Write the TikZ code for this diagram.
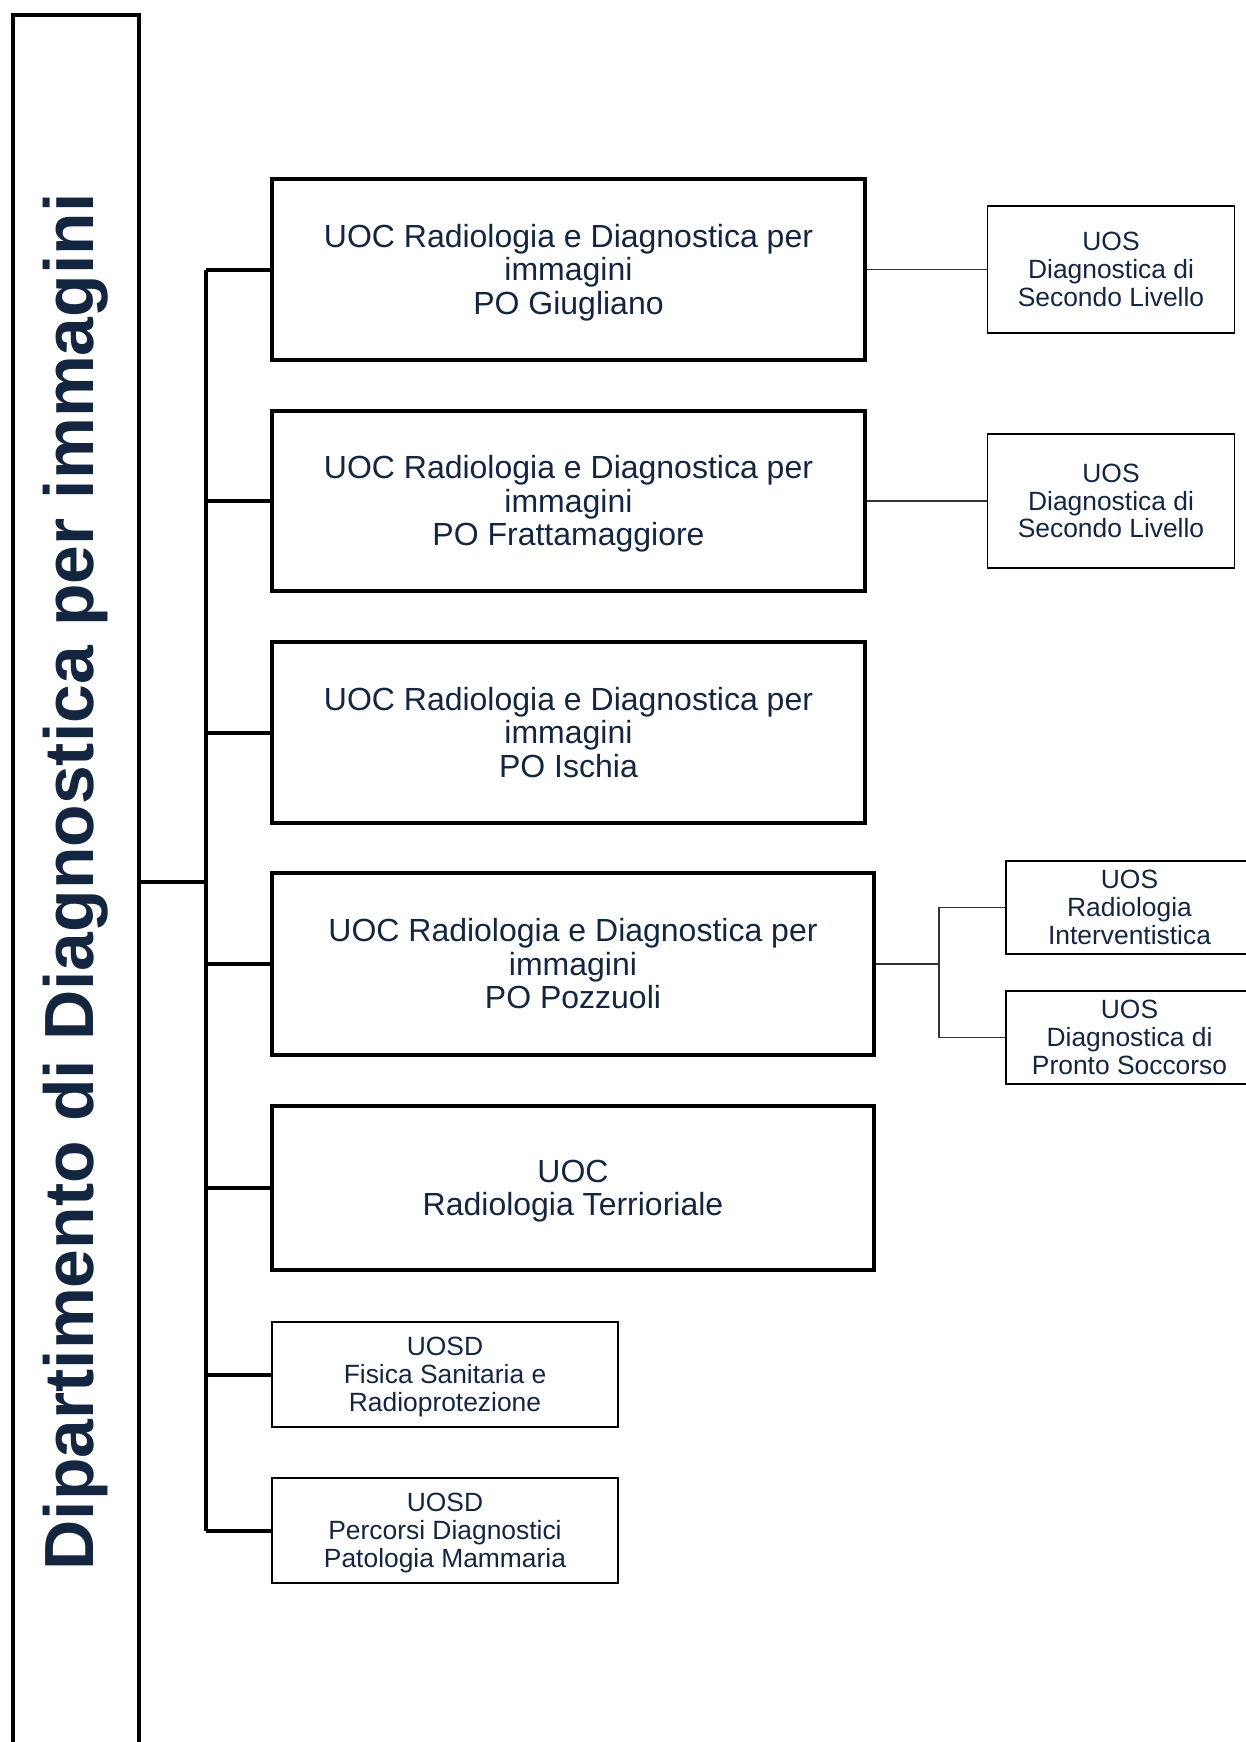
\documentclass[tikz,border=0pt]{standalone}
\usepackage{fontspec}
\setmainfont{Liberation Sans}
\definecolor{navy}{HTML}{14263F}
\definecolor{conngray}{HTML}{333333}
\newcommand{\bigstrut}{\rule{0pt}{29pt}}
\newcommand{\smallstrut}{\rule{0pt}{24pt}}
\begin{document}
\begin{tikzpicture}[x=1pt,y=-1pt,
  deptbox/.style={draw=black, line width=4pt, minimum height=126.5pt, minimum width=1734pt, inner sep=0pt, text=navy, font=\fontsize{69.6}{72}\selectfont\bfseries, rotate=90},
  bigbox/.style={draw=black, line width=4pt, minimum width=593pt, align=center, inner sep=0pt, text=navy, font=\fontsize{32}{33.5}\selectfont},
  uosdbox/.style={draw=black, line width=2pt, minimum width=346pt, minimum height=105pt, align=center, inner sep=0pt, text=navy, font=\fontsize{26.4}{27.8}\selectfont},
  uosbox/.style={draw=black, line width=1.3pt, minimum width=247pt, align=center, inner sep=0pt, text=navy, font=\fontsize{26.4}{27.8}\selectfont},
  thickline/.style={line width=4pt},
  thinline/.style={draw=conngray, line width=1.4pt}
]
\useasboundingbox (0,0) rectangle (1245,1742);

% department box (extends beyond the bottom edge)
\node[deptbox] (dept) at (75.75,882) {Dipartimento di Diagnostica per immagini};

% UOC boxes
\node[bigbox, minimum height=181pt] (b1) at (568.5,269.5) {\bigstrut UOC Radiologia e Diagnostica per\\immagini\\PO Giugliano};
\node[bigbox, minimum height=180pt] (b2) at (568.5,501) {\bigstrut UOC Radiologia e Diagnostica per\\immagini\\PO Frattamaggiore};
\node[bigbox, minimum height=181pt] (b3) at (568.5,732.5) {UOC Radiologia e Diagnostica per\\immagini\\PO Ischia};
\node[bigbox, minimum width=602pt, minimum height=182pt] (b4) at (573,964) {UOC Radiologia e Diagnostica per\\immagini\\PO Pozzuoli};
\node[bigbox, minimum width=602pt, minimum height=164pt] (b5) at (573,1188) {\bigstrut UOC\\Radiologia Terrioriale};

% UOSD boxes
\node[uosdbox] (b6) at (445,1374.5) {\smallstrut UOSD\\Fisica Sanitaria e\\Radioprotezione};
\node[uosdbox] (b7) at (445,1530.5) {\smallstrut UOSD\\Percorsi Diagnostici\\Patologia Mammaria};

% UOS boxes
\node[uosbox, minimum height=127pt] (s1) at (1111,269.5) {UOS\\Diagnostica di\\Secondo Livello};
\node[uosbox, minimum height=134pt] (s2) at (1111,501) {UOS\\Diagnostica di\\Secondo Livello};
\node[uosbox, minimum height=93pt] (s3) at (1129.5,907.5) {UOS\\Radiologia\\Interventistica};
\node[uosbox, minimum height=93pt] (s4) at (1129.5,1037.5) {UOS\\Diagnostica di\\Pronto Soccorso};

% trunk
\coordinate (trunk) at (206,0);
\coordinate (j4) at (939,964);
\draw[thickline] (b1.west -| trunk) -- (b7.west -| trunk);
\draw[thickline] (dept.south) -- (dept.south -| trunk);
\foreach \b in {b1,b2,b3,b4,b5,b6,b7}{
  \draw[thickline] (\b.west -| trunk) -- (\b.west);
}

% UOS connectors
\draw[thinline] (b1.east) -- (s1.west);
\draw[thinline] (b2.east) -- (s2.west);
\draw[thinline] (b4.east) -- (j4);
\draw[thinline] (s3.west) -| (j4) |- (s4.west);
\end{tikzpicture}
\end{document}
